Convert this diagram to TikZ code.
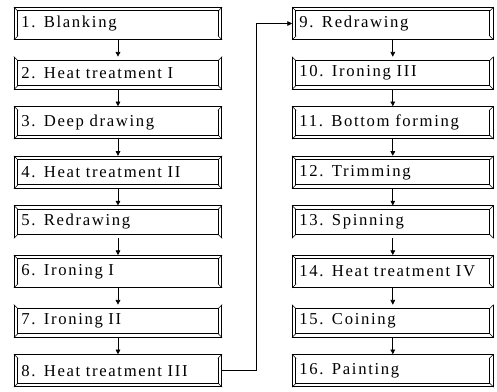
\documentclass[tikz,border=0pt]{standalone}
\usepackage{fontspec}
\newfontfamily\stagefont[LetterSpace=10,WordSpace=1.5]{Liberation Serif}
\usetikzlibrary{arrows.meta}

\tikzset{
  stage/.style={draw, line width=0.6pt, double, double distance=2pt, outer sep=1.6pt,
    inner xsep=4pt, minimum height=21.5pt, align=left,
    font=\stagefont\fontsize{12.5}{14}\selectfont},
  arr/.style={-{Triangle[length=3.5pt,width=3.5pt]}, line width=0.5pt}
}

\begin{document}
\begin{tikzpicture}[x=0.75pt,y=-0.75pt]
\useasboundingbox (0,0) rectangle (497,392);
% left column
\foreach \n/\t in {1/Blanking, 2/Heat treatment I, 3/Deep drawing, 4/Heat treatment II,
  5/Redrawing, 6/Ironing I, 7/Ironing II, 8/Heat treatment III}
  \node[stage, text width=145pt] (s\n) at (118,{23.5+49.6*(\n-1)}) {\mbox{\n. \t}};
% right column
\foreach \n/\t in {9/Redrawing, 10/Ironing III, 11/Bottom forming, 12/Trimming,
  13/Spinning, 14/Heat treatment IV, 15/Coining, 16/Painting}
  \node[stage, text width=140pt] (s\n) at (392.8,{23.5+49.6*(\n-9)}) {\mbox{\n. \t}};
% bevelled corners
\foreach \n in {1,...,16} {
  \draw[line width=0.4pt] (s\n.north west) -- ++(3.2pt,-3.2pt);
  \draw[line width=0.4pt] (s\n.north east) -- ++(-3.2pt,-3.2pt);
  \draw[line width=0.4pt] (s\n.south west) -- ++(3.2pt,3.2pt);
  \draw[line width=0.4pt] (s\n.south east) -- ++(-3.2pt,3.2pt);
}
\foreach \a/\b in {1/2,2/3,3/4,4/5,5/6,6/7,7/8,9/10,10/11,11/12,12/13,13/14,14/15,15/16}
  \draw[arr] (s\a.south) -- (s\b.north);
\coordinate (bend) at (256,0);
\draw[arr] (s8.east) -- (s8.east -| bend) |- (s9.west);
\end{tikzpicture}
\end{document}
